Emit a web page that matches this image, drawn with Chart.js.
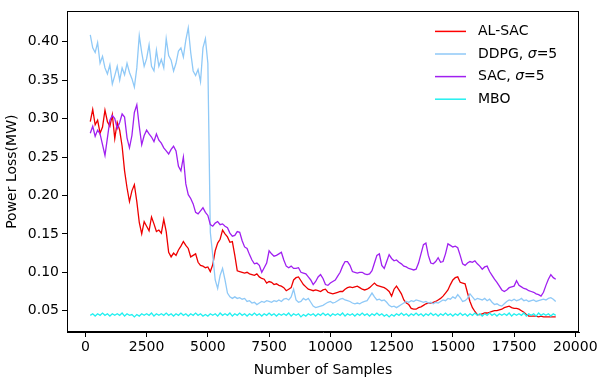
<!DOCTYPE html>
<html>
<head>
<meta charset="utf-8">
<script src="https://cdn.jsdelivr.net/npm/chart.js"></script>
<style>
  html, body { margin: 0; padding: 0; background: #fff; }
  #wrap { width: 600px; height: 380px; }
</style>
</head>
<body>
<div id="wrap"><canvas id="lossChart" width="600" height="380"></canvas></div>
<script>
// samples: 200 .. 19200 every 100
const samples = [];
for (let s = 200; s <= 19200; s += 100) samples.push(s);

const xTicks = [0, 2500, 5000, 7500, 10000, 12500, 15000, 17500, 20000];
const yTicks = [0.05, 0.10, 0.15, 0.20, 0.25, 0.30, 0.35, 0.40];

// AL-SAC
const alSac = [
  0.296, 0.312, 0.292, 0.298, 0.281, 0.289, 0.311, 0.296, 0.290, 0.305,
  0.274, 0.295, 0.285, 0.264, 0.232, 0.210, 0.192, 0.206, 0.214, 0.192,
  0.165, 0.150, 0.166, 0.160, 0.154, 0.172, 0.163, 0.153, 0.155, 0.151,
  0.169, 0.153, 0.126, 0.120, 0.125, 0.122, 0.129, 0.134, 0.140, 0.135,
  0.131, 0.120, 0.122, 0.124, 0.113, 0.109, 0.108, 0.106, 0.107, 0.101,
  0.110, 0.128, 0.138, 0.143, 0.155, 0.150, 0.146, 0.139, 0.140, 0.122,
  0.102, 0.101, 0.100, 0.099, 0.100, 0.098, 0.097, 0.096, 0.098, 0.094,
  0.092, 0.091, 0.086, 0.088, 0.087, 0.084, 0.085, 0.083, 0.082, 0.080,
  0.076, 0.078, 0.080, 0.090, 0.093, 0.094, 0.089, 0.084, 0.081, 0.078,
  0.077, 0.076, 0.077, 0.076, 0.075, 0.077, 0.078, 0.074, 0.073, 0.072,
  0.073, 0.074, 0.075, 0.075, 0.078, 0.080, 0.081, 0.080, 0.081, 0.082,
  0.080, 0.078, 0.077, 0.078, 0.080, 0.083, 0.086, 0.083, 0.082, 0.081,
  0.080, 0.078, 0.075, 0.069, 0.078, 0.082, 0.077, 0.072, 0.064, 0.060,
  0.058, 0.053, 0.052, 0.052, 0.054, 0.055, 0.057, 0.059, 0.060, 0.060,
  0.061, 0.062, 0.064, 0.066, 0.069, 0.073, 0.077, 0.084, 0.090, 0.093,
  0.094, 0.087, 0.086, 0.085, 0.073, 0.062, 0.054, 0.049, 0.045, 0.045,
  0.046, 0.047, 0.047, 0.048, 0.049, 0.050, 0.050, 0.051, 0.052, 0.054,
  0.055, 0.056, 0.054, 0.053, 0.053, 0.052, 0.050, 0.048, 0.045, 0.043,
  0.043, 0.043, 0.043, 0.042, 0.043, 0.042, 0.042, 0.042, 0.042, 0.042,
  0.042
];

// DDPG, sigma=5
const ddpg = [
  0.409, 0.392, 0.386, 0.399, 0.372, 0.381, 0.366, 0.358, 0.370, 0.345,
  0.356, 0.368, 0.350, 0.366, 0.357, 0.372, 0.360, 0.352, 0.341, 0.366,
  0.408, 0.386, 0.368, 0.378, 0.396, 0.368, 0.362, 0.389, 0.368, 0.377,
  0.366, 0.404, 0.382, 0.376, 0.362, 0.372, 0.388, 0.392, 0.380, 0.402,
  0.418, 0.386, 0.362, 0.356, 0.364, 0.348, 0.392, 0.404, 0.372, 0.152,
  0.122, 0.090, 0.079, 0.096, 0.105, 0.090, 0.073, 0.068, 0.066, 0.068,
  0.066, 0.067, 0.065, 0.066, 0.062, 0.063, 0.060, 0.061, 0.058, 0.060,
  0.062, 0.061, 0.063, 0.062, 0.061, 0.063, 0.062, 0.064, 0.062, 0.065,
  0.066, 0.064, 0.068, 0.078, 0.064, 0.061, 0.062, 0.066, 0.064, 0.066,
  0.061, 0.056, 0.054, 0.055, 0.056, 0.057, 0.059, 0.061, 0.062, 0.060,
  0.061, 0.063, 0.065, 0.066, 0.064, 0.063, 0.062, 0.060, 0.059, 0.060,
  0.059, 0.061, 0.062, 0.063, 0.068, 0.073, 0.068, 0.064, 0.065, 0.063,
  0.064, 0.061, 0.057, 0.055, 0.056, 0.054, 0.056, 0.058, 0.060, 0.062,
  0.061, 0.063, 0.062, 0.064, 0.063, 0.062, 0.061, 0.062, 0.060, 0.061,
  0.059, 0.061, 0.060, 0.062, 0.064, 0.063, 0.066, 0.065, 0.068, 0.066,
  0.071, 0.067, 0.062, 0.063, 0.066, 0.072, 0.068, 0.064, 0.066, 0.065,
  0.064, 0.066, 0.063, 0.065, 0.061, 0.058, 0.059, 0.057, 0.056, 0.059,
  0.062, 0.064, 0.063, 0.065, 0.063, 0.064, 0.066, 0.063, 0.064, 0.062,
  0.063, 0.064, 0.062, 0.063, 0.064, 0.065, 0.064, 0.066, 0.067, 0.065,
  0.062
];

// SAC, sigma=5
const sac = [
  0.281, 0.290, 0.277, 0.285, 0.280, 0.266, 0.252, 0.275, 0.298, 0.304,
  0.300, 0.287, 0.295, 0.306, 0.302, 0.275, 0.262, 0.278, 0.308, 0.318,
  0.290, 0.266, 0.278, 0.285, 0.280, 0.276, 0.270, 0.280, 0.272, 0.268,
  0.262, 0.258, 0.254, 0.260, 0.264, 0.258, 0.238, 0.232, 0.250, 0.215,
  0.201, 0.196, 0.189, 0.178, 0.176, 0.180, 0.184, 0.178, 0.174, 0.162,
  0.160, 0.164, 0.166, 0.162, 0.163, 0.160, 0.158, 0.151, 0.147, 0.148,
  0.153, 0.152, 0.141, 0.133, 0.131, 0.123, 0.116, 0.111, 0.112, 0.109,
  0.100, 0.106, 0.112, 0.128, 0.124, 0.121, 0.122, 0.124, 0.126, 0.116,
  0.108, 0.106, 0.108, 0.105, 0.105, 0.106, 0.100, 0.099, 0.098, 0.094,
  0.090, 0.084, 0.088, 0.094, 0.097, 0.092, 0.084, 0.083, 0.086, 0.088,
  0.090, 0.095, 0.100, 0.108, 0.114, 0.114, 0.109, 0.101, 0.100, 0.099,
  0.100, 0.100, 0.098, 0.097, 0.098, 0.102, 0.112, 0.122, 0.124, 0.109,
  0.105, 0.114, 0.123, 0.118, 0.115, 0.116, 0.113, 0.111, 0.108, 0.107,
  0.105, 0.104, 0.103, 0.104, 0.112, 0.124, 0.136, 0.138, 0.122, 0.112,
  0.111, 0.114, 0.119, 0.113, 0.114, 0.124, 0.137, 0.135, 0.133, 0.134,
  0.132, 0.122, 0.111, 0.109, 0.112, 0.114, 0.113, 0.115, 0.111, 0.108,
  0.104, 0.107, 0.108, 0.101, 0.096, 0.091, 0.087, 0.082, 0.077, 0.075,
  0.077, 0.080, 0.081, 0.082, 0.089, 0.083, 0.081, 0.079, 0.078, 0.076,
  0.075, 0.074, 0.072, 0.071, 0.069, 0.074, 0.083, 0.091, 0.097, 0.093,
  0.091
];

// MBO
const mbo = [
  0.044, 0.046, 0.043, 0.046, 0.044, 0.047, 0.044, 0.046, 0.043, 0.046,
  0.044, 0.046, 0.044, 0.047, 0.043, 0.046, 0.044, 0.045, 0.042, 0.045,
  0.043, 0.046, 0.044, 0.046, 0.044, 0.047, 0.043, 0.046, 0.044, 0.046,
  0.044, 0.047, 0.044, 0.046, 0.043, 0.046, 0.044, 0.047, 0.044, 0.046,
  0.043, 0.046, 0.044, 0.047, 0.044, 0.046, 0.043, 0.045, 0.043, 0.046,
  0.044, 0.046, 0.043, 0.047, 0.044, 0.046, 0.044, 0.047, 0.043, 0.046,
  0.044, 0.047, 0.044, 0.046, 0.043, 0.046, 0.044, 0.047, 0.044, 0.046,
  0.043, 0.046, 0.044, 0.047, 0.044, 0.046, 0.043, 0.046, 0.044, 0.046,
  0.044, 0.047, 0.043, 0.046, 0.044, 0.046, 0.042, 0.045, 0.043, 0.046,
  0.044, 0.046, 0.043, 0.046, 0.044, 0.047, 0.044, 0.046, 0.043, 0.046,
  0.044, 0.046, 0.044, 0.047, 0.043, 0.046, 0.044, 0.046, 0.043, 0.046,
  0.044, 0.047, 0.044, 0.046, 0.043, 0.046, 0.044, 0.047, 0.044, 0.046,
  0.043, 0.045, 0.042, 0.045, 0.043, 0.046, 0.044, 0.047, 0.044, 0.046,
  0.043, 0.046, 0.044, 0.047, 0.044, 0.046, 0.043, 0.046, 0.044, 0.047,
  0.044, 0.046, 0.043, 0.046, 0.044, 0.047, 0.044, 0.046, 0.043, 0.046,
  0.044, 0.047, 0.044, 0.046, 0.043, 0.046, 0.044, 0.047, 0.044, 0.046,
  0.043, 0.046, 0.044, 0.047, 0.044, 0.046, 0.043, 0.046, 0.044, 0.046,
  0.044, 0.047, 0.043, 0.046, 0.044, 0.046, 0.044, 0.047, 0.043, 0.046,
  0.044, 0.046, 0.043, 0.047, 0.044, 0.046, 0.044, 0.046, 0.043, 0.046,
  0.044
];

const FONT = '"DejaVu Sans", sans-serif';

function pts(values) {
  return values.map((v, i) => ({ x: samples[i], y: v }));
}

// legend entries: text pieces, second flag = italic (the sigma)
const legendItems = [
  { color: '#ff0000', parts: [['AL-SAC', false]] },
  { color: '#8fc9f7', parts: [['DDPG, ', false], ['σ', true], ['=5', false]] },
  { color: '#a020f0', parts: [['SAC, ', false], ['σ', true], ['=5', false]] },
  { color: '#22f0f0', parts: [['MBO', false]] }
];

// full black frame + legend inside top-right corner
const framePlugin = {
  id: 'frameAndLegend',
  afterDraw(chart) {
    const { ctx, chartArea: a } = chart;
    ctx.save();
    ctx.strokeStyle = '#000';
    ctx.lineWidth = 1;
    ctx.strokeRect(Math.round(a.left) + 0.5, Math.round(a.top) + 0.5,
                   Math.round(a.right - a.left) - 1, Math.round(a.bottom - a.top) - 1);

    const x0 = a.right - 144;
    legendItems.forEach((item, i) => {
      const y = a.top + 20 + i * 22.6;
      ctx.strokeStyle = item.color;
      ctx.lineWidth = 1.5;
      ctx.beginPath();
      ctx.moveTo(x0, y);
      ctx.lineTo(x0 + 31, y);
      ctx.stroke();
      let tx = x0 + 43;
      ctx.fillStyle = '#000';
      ctx.textBaseline = 'middle';
      item.parts.forEach(([txt, italic]) => {
        ctx.font = (italic ? 'italic ' : '') + '14px ' + FONT;
        ctx.fillText(txt, tx, y);
        tx += ctx.measureText(txt).width;
      });
    });
    ctx.restore();
  }
};

const ctx = document.getElementById('lossChart').getContext('2d');
new Chart(ctx, {
  type: 'line',
  data: {
    datasets: [
      { label: 'AL-SAC', data: pts(alSac), borderColor: '#ee0000', order: 3 },
      { label: 'DDPG, σ=5', data: pts(ddpg), borderColor: '#8fc9f7', order: 2 },
      { label: 'SAC, σ=5', data: pts(sac), borderColor: '#a020f0', order: 1 },
      { label: 'MBO', data: pts(mbo), borderColor: '#22f0f0', order: 0 }
    ]
  },
  options: {
    responsive: false,
    animation: false,
    parsing: false,
    elements: {
      point: { radius: 0 },
      line: { borderWidth: 1.3, tension: 0 }
    },
    layout: { padding: { top: 1, right: 21, left: 0, bottom: 0 } },
    plugins: { legend: { display: false }, tooltip: { enabled: false } },
    scales: {
      x: {
        type: 'linear',
        min: -750,
        max: 20150,
        afterBuildTicks: s => { s.ticks = xTicks.map(v => ({ value: v })); },
        afterFit: s => { s.height = 48; },
        grid: { drawOnChartArea: false, drawTicks: true, tickLength: 5, color: '#000' },
        border: { display: true, color: '#000', width: 1 },
        ticks: { color: '#000', font: { family: FONT, size: 14 }, padding: 2, maxRotation: 0,
                 callback: v => String(v) },
        title: { display: true, text: 'Number of Samples', color: '#000',
                 font: { family: FONT, size: 14 }, padding: { top: 0, bottom: 1.5 } }
      },
      y: {
        min: 0.0223,
        max: 0.4395,
        afterBuildTicks: s => { s.ticks = yTicks.map(v => ({ value: v })); },
        afterFit: s => { s.width = 67; },
        grid: { drawOnChartArea: false, drawTicks: true, tickLength: 5, color: '#000' },
        border: { display: true, color: '#000', width: 1 },
        ticks: { color: '#000', font: { family: FONT, size: 14 }, padding: 3,
                 callback: v => v.toFixed(2) },
        title: { display: true, text: 'Power Loss(MW)', color: '#000',
                 font: { family: FONT, size: 14 }, padding: { top: 3.6, bottom: 0 } }
      }
    }
  },
  plugins: [framePlugin]
});
</script>
</body>
</html>
